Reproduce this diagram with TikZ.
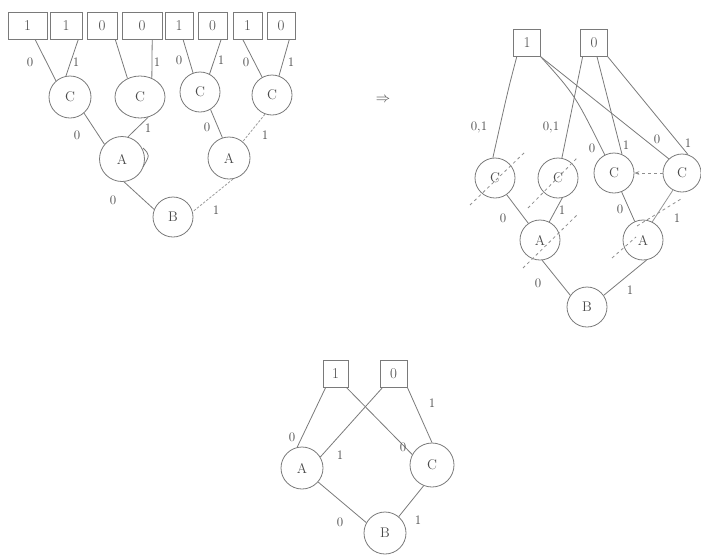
\documentclass[tikz,border=0pt]{standalone}
\usetikzlibrary{calc,arrows.meta,shapes.geometric}
\definecolor{ln}{HTML}{7A7A7A}
\definecolor{tx}{HTML}{4A4A4A}
\begin{document}
\begin{tikzpicture}[x=1pt,y=-1pt,
 every node/.style={text=tx},
 box/.style={draw=ln,line width=0.8pt,minimum height=27pt,inner sep=0pt,font=\fontsize{15}{15}\selectfont},
 vtx/.style={draw=ln,line width=0.8pt,circle,inner sep=0pt,font=\fontsize{14}{14}\selectfont},
 lbl/.style={inner sep=0pt,font=\fontsize{13}{13}\selectfont},
 edge/.style={draw=ln,line width=0.8pt},
 faint/.style={draw=ln!75,line width=0.8pt,dash pattern=on 2.5pt off 1.5pt},
 pencil/.style={draw=ln!85,line width=0.8pt,dash pattern=on 3pt off 3pt}]
\useasboundingbox (0,0) rectangle (701,555);

% ---------------- left tree ----------------
\node[box,minimum width=39pt] (b1) at (27.5,25.5) {1};
\node[box,minimum width=32pt] (b2) at (66,25.5) {1};
\node[box,minimum width=30pt] (b3) at (102,25.5) {0};
\node[box,minimum width=40pt] (b4) at (142,25.5) {0};
\node[box,minimum width=28pt] (b5) at (179,25.5) {1};
\node[box,minimum width=29pt] (b6) at (212.5,25.5) {0};
\node[box,minimum width=29pt] (b7) at (247.5,25.5) {1};
\node[box,minimum width=28pt] (b8) at (281,25.5) {0};

\node[vtx,minimum size=42pt] (lc1) at (70,97) {C};
\node[vtx,ellipse,minimum width=50pt,minimum height=42pt] (lc2) at (140,97) {C};
\node[vtx,minimum size=40pt] (lc3) at (200,92) {C};
\node[vtx,minimum size=40pt] (lc4) at (272,95) {C};
\node[vtx,minimum size=45pt] (la1) at (122,159) {A};
\node[vtx,minimum size=42pt] (la2) at (229,158) {A};
\node[vtx,minimum size=40pt] (lb) at (173,217) {B};

\draw[edge] ($(b1.south west)!0.69!(b1.south east)$) -- (lc1.131);
\draw[edge] ($(b2.south west)!0.875!(b2.south east)$) -- (lc1.101);
\draw[edge] ($(b3.south west)!0.93!(b3.south east)$) -- (lc2.124);
\draw[edge] ($(b4.south west)!0.75!(b4.south east)$) -- (lc2.58);
\draw[edge] ($(b5.south west)!0.64!(b5.south east)$) -- (lc3.110);
\draw[edge] ($(b6.south west)!0.79!(b6.south east)$) -- (lc3.62);
\draw[edge] ($(b7.south west)!0.34!(b7.south east)$) -- (lc4.119);
\draw[edge] ($(b8.south west)!0.79!(b8.south east)$) -- (lc4.70);
\draw[edge] (lc1.-49) -- (la1.140);
\draw[edge] (lc2.-68) -- (la1.75);
\draw[edge] (lc3.-59) -- (la2.108);
\draw[faint] (lc4.-110) -- (la2.50);
\draw[edge] (la1.-85) -- (lb.158);
\draw[faint] (la2.-79) -- (lb.15);
\draw[edge] (143,148) .. controls (150,155) .. (143,167);

\node[lbl] (l01) at (30,62) {0};
\node[lbl] (l02) at (76,62) {1};
\node[lbl] (l03) at (157,62) {1};
\node[lbl] (l04) at (179,60) {0};
\node[lbl] (l05) at (221,60) {1};
\node[lbl] (l06) at (246,62) {0};
\node[lbl] (l07) at (291,62) {1};
\node[lbl] (l08) at (77,135) {0};
\node[lbl] (l09) at (148,128) {1};
\node[lbl] (l10) at (207,127) {0};
\node[lbl] (l11) at (265,135) {1};
\node[lbl] (l12) at (113,200) {0};
\node[lbl] (l13) at (216,210) {1};

\node[font=\fontsize{14}{14}\selectfont] (arr) at (383,100) {$\Rightarrow$};

% ---------------- right graph ----------------
\node[box,minimum width=27pt] (r1) at (527,43) {1};
\node[box,minimum width=27pt] (r0) at (594,43) {0};
\node[vtx,minimum size=40pt] (rc1) at (495,178) {C};
\node[vtx,minimum size=40pt] (rc2) at (558,178) {C};
\node[vtx,minimum size=40pt] (rc3) at (614,173) {C};
\node[vtx,minimum size=38pt] (rc4) at (682,173) {C};
\node[vtx,minimum size=40pt] (ra1) at (540,240) {A};
\node[vtx,minimum size=40pt] (ra2) at (643,240) {A};
\node[vtx,minimum size=40pt] (rb) at (587,307) {B};

\draw[edge] ($(r1.south west)!0.13!(r1.south east)$) .. controls (508,90) .. (rc1.96);
\draw[edge] ($(r0.south west)!0.09!(r0.south east)$) -- (rc2.79);
\draw[edge] (r1.south east) .. controls (575,95) .. (rc3.117);
\draw[edge] (r1.south east) -- (rc4.133);
\draw[edge] ($(r0.south west)!0.61!(r0.south east)$) -- (rc3.67);
\draw[edge] (r0.south east) -- (rc4.72);
\draw[edge] (rc1.-55) -- (ra1.125);
\draw[edge] (rc2.-78) -- (ra1.63);
\draw[edge] (rc3.-68) -- (ra2.114);
\draw[edge,draw=ln!80] (rc4.-118) -- (ra2.63);
\draw[edge] (ra1.-84) -- (rb.145);
\draw[edge] (ra2.-80) -- (rb.35);
\draw[pencil,-{Stealth[length=5pt]}] (rc4.west) -- (rc3.east);

\draw[pencil] (470,205) -- (525,152);
\draw[pencil] (528,208) -- (578,157);
\draw[pencil] (523,268) -- (577,215);
\draw[pencil] (612,258) -- (636,237);
\draw[pencil] (637,226) -- (681,199);

\node[lbl] (r01) at (479,127) {0,1};
\node[lbl] (r02) at (551,127) {0,1};
\node[lbl] (r03) at (592,148) {0};
\node[lbl] (r04) at (626,145) {1};
\node[lbl] (r05) at (657,139) {0};
\node[lbl] (r06) at (688,143) {1};
\node[lbl] (r07) at (503,218) {0};
\node[lbl] (r08) at (562,210) {1};
\node[lbl] (r09) at (620,209) {0};
\node[lbl] (r10) at (677,218) {1};
\node[lbl] (r11) at (538,283) {0};
\node[lbl] (r12) at (630,290) {1};

% ---------------- bottom graph ----------------
\node[box,minimum width=25pt] (s1) at (335.5,373.5) {1};
\node[box,minimum width=27pt] (s0) at (393.5,373.5) {0};
\node[vtx,minimum size=42pt] (sa) at (302,468) {A};
\node[vtx,minimum size=44pt] (sc) at (432,465) {C};
\node[vtx,minimum size=42pt] (sb) at (385,533) {B};

\draw[edge] ($(s1.south west)!0.12!(s1.south east)$) -- (sa.103);
\draw[edge] ($(s0.south west)!0.11!(s0.south east)$) -- (sa.31);
\draw[edge] ($(s1.south west)!0.92!(s1.south east)$) -- (sc.152);
\draw[edge] (s0.south east) -- (sc.90);
\draw[edge] (sa.-41) -- (sb.151);
\draw[edge] (sc.-112) -- (sb.50);

\node[lbl] (s01) at (292,437) {0};
\node[lbl] (s02) at (340,455) {1};
\node[lbl] (s03) at (403,447) {0};
\node[lbl] (s04) at (432,403) {1};
\node[lbl] (s05) at (340,522) {0};
\node[lbl] (s06) at (418,520) {1};
\end{tikzpicture}
\end{document}
